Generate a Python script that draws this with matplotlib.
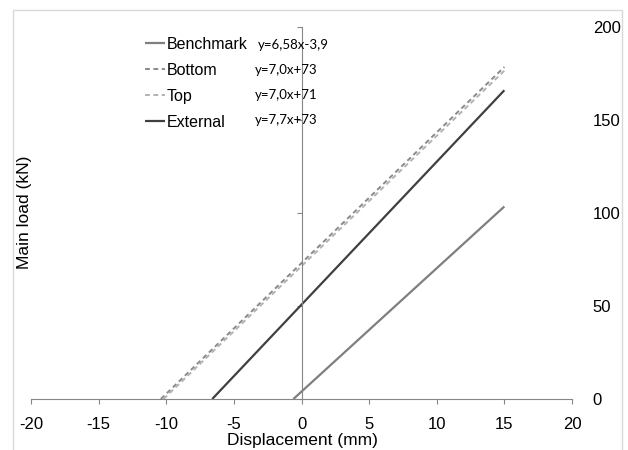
import matplotlib
matplotlib.use("Agg")
import matplotlib.pyplot as plt
from matplotlib.patches import Rectangle

plt.rcParams['font.family'] = ['Liberation Sans', 'DejaVu Sans']

# data (line endpoints)
series_names = ["Benchmark", "Bottom", "Top", "External"]
bench_x = [-0.6, 15]
bench_y = [0, 103.5]
bottom_x = [-10.4, 15]
bottom_y = [0, 178.5]
top_x = [-10.2, 15]
top_y = [0, 176.5]
ext_x = [-6.6, 15]
ext_y = [0, 166]
equations = ["y=6,58x-3,9", "y=7,0x+73", "y=7,0x+71", "y=7,7x+73"]
x_ticks = [-20, -15, -10, -5, 0, 5, 10, 15, 20]
y_ticks = [0, 50, 100, 150, 200]

W, H = 628, 450
fig = plt.figure(figsize=(W / 100, H / 100), dpi=100)
ax = fig.add_axes([31 / W, 51 / H, (572 - 31) / W, (399 - 27) / H])

axis_col = '#868686'
l1, = ax.plot(bench_x, bench_y, color='#7f7f7f', lw=1.6, solid_capstyle='butt')
l2, = ax.plot(bottom_x, bottom_y, color='#8a8a8a', lw=1.4, ls=(0, (2.5, 1.8)))
l3, = ax.plot(top_x, top_y, color='#b3b3b3', lw=1.4, ls=(0, (2.5, 1.8)))
l4, = ax.plot(ext_x, ext_y, color='#404040', lw=1.6, solid_capstyle='butt')

ax.set_xlim(-20, 20)
ax.set_ylim(0, 200)
ax.set_xticks(x_ticks)
ax.set_yticks(y_ticks)
ax.set_xticklabels([str(v) for v in x_ticks])
ax.set_yticklabels([str(v) for v in y_ticks])

for s in ['top', 'right']:
    ax.spines[s].set_visible(False)
ax.spines['left'].set_position(('data', 0))
ax.spines['left'].set_color(axis_col)
ax.spines['bottom'].set_color(axis_col)
ax.spines['left'].set_linewidth(0.8)
ax.spines['bottom'].set_linewidth(0.8)

ax.tick_params(axis='x', direction='out', length=3.5, width=0.8, color=axis_col,
               labelsize=12, pad=9.5, labelcolor='black')
ax.tick_params(axis='y', left=True, right=False, labelleft=False, labelright=True,
               direction='out', length=3.5, width=0.8, color=axis_col,
               labelsize=12, pad=11.5, labelcolor='black')

fig.text(302 / W, 1 - 441 / H, "Displacement (mm)", ha='center', va='center', fontsize=12.5)
fig.text(25 / W, 1 - 212 / H, "Main load (kN)", ha='center', va='center',
         rotation=90, fontsize=12.5)

leg = ax.legend([l1, l2, l3, l4], series_names, loc='upper left',
                bbox_to_anchor=(145 / W, 1 - 37 / H), bbox_transform=fig.transFigure,
                frameon=False, fontsize=11.5, handlelength=1.25, handletextpad=0.12,
                labelspacing=0.68, borderaxespad=0, borderpad=0)

eq_y = [45, 70, 95, 120]
eq_x = [258, 255, 255, 255]
for t, xx, yy in zip(equations, eq_x, eq_y):
    fig.text(xx / W, 1 - yy / H, t, ha='left', va='center', fontsize=9.5,
             family=['Lato', 'DejaVu Sans'])

fig.add_artist(Rectangle((13 / W, -0.1), (622 - 13) / W, 1.1 - 10 / H,
                         transform=fig.transFigure, fill=False,
                         edgecolor='#d9d9d9', lw=1.0, clip_on=False))

fig.savefig("out.png", dpi=100)
